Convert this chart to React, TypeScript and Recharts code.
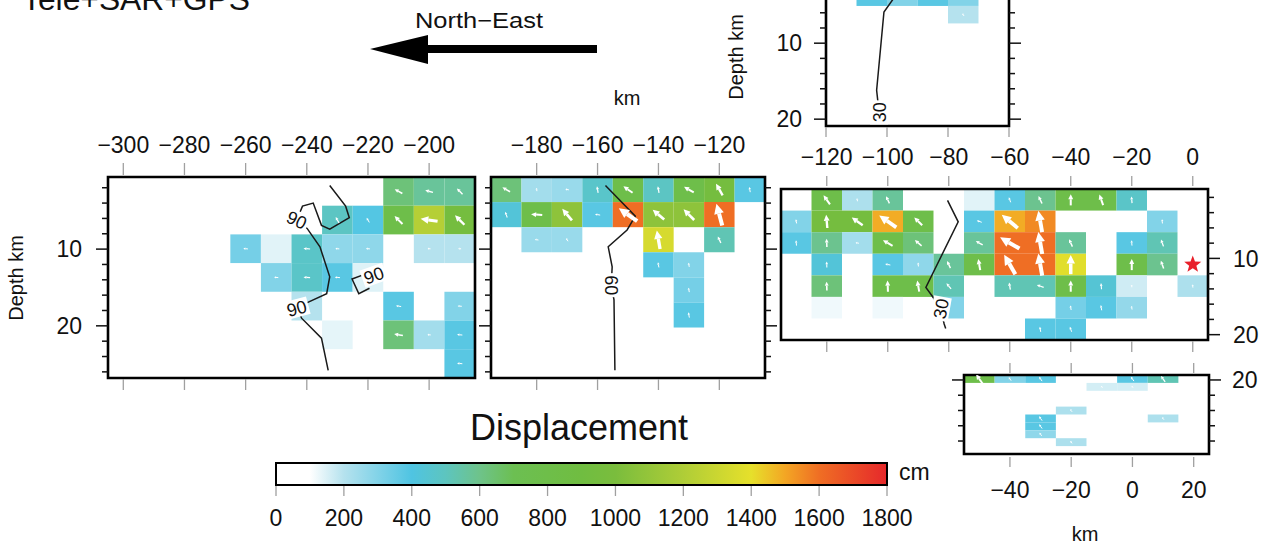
import React from 'react';
import { ScatterChart, Scatter, XAxis, YAxis, ReferenceArea } from 'recharts';

const FONT = '"Liberation Sans", Arial, Helvetica, sans-serif';

// colour table of the displacement bar (cm)
const scaleValues = [0, 100, 200, 400, 500, 600, 700, 900, 1000, 1200, 1400, 1500, 1600, 1800];
const scaleColors = ['#ffffff', '#ffffff', '#b5e2ee', '#4fc4e2', '#5dc5bf', '#6ec38a', '#6cbf52', '#70bd41', '#7abd3d', '#afcd37', '#e6e02b', '#f3a624', '#ef6e24', '#e6282b'];
const barTicks = [0, 200, 400, 600, 800, 1000, 1200, 1400, 1600, 1800];

// segment 1 : -305..-185 km, 10 km columns, 7 rows
const seg1Slip = [
  [0, 0, 0, 0, 0, 0, 0, 0, 0, 630, 570, 570],
  [0, 0, 0, 0, 0, 0, 0, 490, 390, 800, 1220, 950],
  [0, 0, 0, 0, 325, 140, 475, 275, 275, 0, 200, 200],
  [0, 0, 0, 0, 0, 300, 475, 380, 145, 0, 0, 0],
  [0, 0, 0, 0, 0, 0, 200, 0, 0, 380, 0, 300],
  [0, 0, 0, 0, 0, 0, 0, 135, 0, 630, 235, 380],
  [0, 0, 0, 0, 0, 0, 0, 0, 0, 0, 0, 380],
];
const seg1Rake = [
  [0, 0, 0, 0, 0, 0, 0, 0, 0, 150, 165, 135],
  [0, 0, 0, 0, 0, 0, 0, 120, 120, 135, 172, 135],
  [0, 0, 0, 0, 175, 175, 175, 175, 175, 0, 175, 175],
  [0, 0, 0, 0, 0, 175, 175, 175, 175, 0, 0, 0],
  [0, 0, 0, 0, 0, 0, 175, 0, 0, 170, 0, 175],
  [0, 0, 0, 0, 0, 0, 0, 175, 0, 170, 175, 175],
  [0, 0, 0, 0, 0, 0, 0, 0, 0, 0, 0, 175],
];
const seg1Contour = [
  { x: -232.5, y: 1.7 }, { x: -227.3, y: 4.4 }, { x: -226.1, y: 5.9 }, { x: -232.5, y: 7.4 },
  { x: -235.2, y: 6.9 }, { x: -237.9, y: 4.0 }, { x: -241.4, y: 4.4 }, { x: -243.3, y: 6.2 },
  { x: -239.9, y: 7.3 }, { x: -235.7, y: 9.7 }, { x: -232.5, y: 13.6 }, { x: -233.5, y: 15.8 },
  { x: -239.5, y: 16.9 }, { x: -243.3, y: 17.7 }, { x: -241.7, y: 19.0 }, { x: -235.2, y: 21.6 },
  { x: -233.0, y: 25.8 },
];
const seg1Contour2 = [
  { x: -218.1, y: 13.4 }, { x: -220.5, y: 13.2 }, { x: -225.2, y: 13.9 }, { x: -223.0, y: 15.8 }, { x: -219.5, y: 15.1 },
];
const seg1Labels = [
  { x: -243.3, y: 6.2, text: '90', angle: 25 },
  { x: -243.3, y: 17.7, text: '90', angle: -15 },
  { x: -218.1, y: 13.4, text: '90', angle: -20 },
];

// segment 2 : -195..-105 km, 8 rows
const seg2Slip = [
  [630, 235, 255, 470, 800, 490, 800, 950, 380],
  [430, 800, 1075, 380, 1600, 1075, 1075, 1600, 0],
  [0, 255, 255, 0, 0, 1340, 0, 520, 0],
  [0, 0, 0, 0, 0, 380, 300, 0, 0],
  [0, 0, 0, 0, 0, 0, 325, 0, 0],
  [0, 0, 0, 0, 0, 0, 380, 0, 0],
];
const seg2Rake = [
  [150, 100, 170, 100, 145, 100, 150, 120, 100],
  [110, 175, 130, 170, 145, 140, 135, 105, 0],
  [0, 170, 120, 0, 0, 100, 0, 115, 0],
  [0, 0, 0, 0, 0, 100, 100, 0, 0],
  [0, 0, 0, 0, 0, 0, 100, 0, 0],
  [0, 0, 0, 0, 0, 0, 100, 0, 0],
];
const seg2Contour = [
  { x: -157.4, y: 1.7 }, { x: -147.6, y: 5.7 }, { x: -150.3, y: 7.5 }, { x: -156.5, y: 9.7 },
  { x: -155.2, y: 12.3 }, { x: -155.5, y: 14.7 }, { x: -154.6, y: 16.6 }, { x: -154.3, y: 25.8 },
];
const seg2Labels = [{ x: -155.5, y: 14.7, text: '60', angle: 90 }];

// segment 3 : -135..5 km, 7 rows
const seg3Slip = [
  [0, 800, 215, 570, 0, 0, 140, 380, 590, 800, 800, 475, 0, 0],
  [300, 950, 950, 1490, 800, 0, 380, 1490, 1550, 0, 0, 0, 300, 0],
  [380, 590, 235, 800, 630, 0, 570, 1600, 1600, 570, 0, 380, 520, 0],
  [0, 430, 0, 380, 275, 570, 800, 1600, 1600, 1380, 0, 800, 590, 0],
  [0, 630, 0, 800, 800, 520, 0, 520, 520, 800, 440, 165, 0, 215],
  [0, 120, 0, 120, 0, 300, 0, 0, 0, 325, 380, 265, 0, 0],
  [0, 0, 0, 0, 0, 0, 0, 0, 380, 380, 0, 0, 0, 0],
];
const seg3Rake = [
  [0, 125, 100, 115, 0, 0, 100, 110, 115, 90, 110, 95, 0, 0],
  [100, 95, 145, 145, 135, 0, 160, 140, 100, 0, 0, 0, 95, 0],
  [95, 92, 170, 150, 140, 0, 150, 150, 100, 115, 0, 95, 110, 0],
  [0, 92, 0, 170, 95, 115, 100, 120, 100, 90, 0, 90, 110, 0],
  [0, 92, 0, 92, 100, 130, 0, 100, 160, 90, 95, 95, 0, 95],
  [0, 90, 0, 90, 0, 100, 0, 0, 0, 100, 100, 100, 0, 0],
  [0, 0, 0, 0, 0, 0, 0, 0, 100, 110, 0, 0, 0, 0],
];
const seg3Contour = [
  { x: -80.4, y: 2.4 }, { x: -76.9, y: 5.2 }, { x: -87.5, y: 13.8 }, { x: -85.5, y: 14.9 },
  { x: -82.6, y: 16.6 }, { x: -81.5, y: 18.6 }, { x: -81.0, y: 19.2 },
];
const seg3Labels = [{ x: -82.6, y: 16.6, text: '30', angle: -80 }];
const hypocenter = [{ x: 0, y: 10.8 }];

// segment 4 : -55..25 km, deep rows
const seg4Slip = [
  [800, 300, 380, 0, 0, 380, 520, 0],
  [0, 0, 0, 0, 160, 160, 0, 0],
  [0, 0, 0, 0, 0, 0, 0, 0],
  [0, 0, 0, 0, 0, 0, 0, 0],
  [0, 0, 0, 215, 0, 0, 0, 0],
  [0, 0, 380, 0, 0, 0, 215, 0],
  [0, 0, 380, 0, 0, 0, 0, 0],
  [0, 0, 275, 0, 0, 0, 0, 0],
  [0, 0, 0, 215, 0, 0, 0, 0],
];
const seg4Rake = [
  [125, 125, 125, 0, 0, 125, 125, 0],
  [0, 0, 0, 0, 125, 125, 0, 0],
  [0, 0, 0, 0, 0, 0, 0, 0],
  [0, 0, 0, 0, 0, 0, 0, 0],
  [0, 0, 0, 125, 0, 0, 0, 0],
  [0, 0, 125, 0, 0, 0, 125, 0],
  [0, 0, 125, 0, 0, 0, 0, 0],
  [0, 0, 125, 0, 0, 0, 0, 0],
  [0, 0, 0, 125, 0, 0, 0, 0],
];

// top segment : -120..-60 km (visible rows only)
const seg5Slip = [
  [0, 380, 300, 380, 300, 0],
  [0, 0, 0, 0, 200, 0],
];
const seg5Rake = [
  [0, 120, 120, 120, 120, 0],
  [0, 0, 0, 0, 120, 0],
];
const seg5Contour = [
  { x: -95.7, y: 2.9 }, { x: -101.0, y: 5.9 }, { x: -103.4, y: 16.2 }, { x: -102.6, y: 19.1 },
];
const seg5Labels = [{ x: -102.6, y: 19.1, text: '30', angle: -90 }];

const hexToRgb = (h: string) => [1, 3, 5].map((i) => parseInt(h.slice(i, i + 2), 16));

function slipColor(v: number) {
  for (let i = 1; i < scaleValues.length; i++) {
    if (v <= scaleValues[i]) {
      const t = (v - scaleValues[i - 1]) / (scaleValues[i] - scaleValues[i - 1]);
      const a = hexToRgb(scaleColors[i - 1]);
      const b = hexToRgb(scaleColors[i]);
      const c = a.map((x, k) => Math.round(x + (b[k] - x) * t));
      return `rgb(${c.join(',')})`;
    }
  }
  return scaleColors[scaleColors.length - 1];
}

function buildCells(slip: number[][], rake: number[][], x0: number, dx: number, y0: number, dy: number) {
  const out: any[] = [];
  slip.forEach((row, r) =>
    row.forEach((s, c) => {
      if (s > 0) {
        out.push({
          x1: x0 + c * dx, x2: x0 + (c + 1) * dx,
          y1: y0 + r * dy, y2: y0 + (r + 1) * dy,
          x: x0 + (c + 0.5) * dx, y: y0 + (r + 0.5) * dy,
          slip: s, rake: rake[r][c],
        });
      }
    })
  );
  return out;
}

const fmt = (v: number) => (v < 0 ? '\u2212' + Math.abs(v) : String(v));

const makeXTick = (label: boolean, labelDy: number, marks: [number, number][]) => (p: any) => (
  <g>
    {marks.map(([a, b], i) => (
      <line key={i} x1={p.x} x2={p.x} y1={p.y + a} y2={p.y + b} stroke="#a0a0a0" strokeWidth={1.3} />
    ))}
    {label && (
      <text x={p.x} y={p.y + labelDy} textAnchor="middle" fontSize={23} fontFamily={FONT} fill="#111">
        {fmt(p.payload.value)}
      </text>
    )}
  </g>
);

const makeYTick = (dir: number, other: number | null, label: boolean, gap: number) => (p: any) => {
  const v = p.payload.value;
  const major = v % 10 === 0;
  const len = major ? 12 : 6;
  return (
    <g>
      <line x1={p.x} x2={p.x + dir * len} y1={p.y} y2={p.y} stroke="#111" strokeWidth={1.5} />
      {other !== null && (
        <line x1={p.x - dir * other} x2={p.x - dir * (other + len)} y1={p.y} y2={p.y} stroke="#111" strokeWidth={1.5} />
      )}
      {label && major && (
        <text x={p.x + dir * gap} y={p.y} dy="0.36em" textAnchor={dir < 0 ? 'end' : 'start'} fontSize={23} fontFamily={FONT} fill="#111">
          {v}
        </text>
      )}
    </g>
  );
};

const ArrowShape = (p: any) => {
  const { cx, cy, payload } = p;
  const len = payload.slip * 0.014;
  if (len < 2) return <g />;
  const a = (payload.rake * Math.PI) / 180;
  const ux = Math.cos(a);
  const uy = -Math.sin(a);
  const head = len * 0.45;
  const hw = Math.max(1.2, len * 0.22);
  const sw = Math.max(1, len * 0.18);
  const tx = cx - (ux * len) / 2;
  const ty = cy - (uy * len) / 2;
  const hx = cx + (ux * len) / 2;
  const hy = cy + (uy * len) / 2;
  const bx = hx - ux * head;
  const by = hy - uy * head;
  return (
    <g>
      <line x1={tx} y1={ty} x2={bx} y2={by} stroke="#fff" strokeWidth={sw} />
      <polygon points={`${hx},${hy} ${bx - uy * hw},${by + ux * hw} ${bx + uy * hw},${by - ux * hw}`} fill="#fff" />
    </g>
  );
};

const ContourLabel = (p: any) => (
  <g transform={`translate(${p.cx},${p.cy}) rotate(${p.payload.angle})`}>
    <rect x={-12} y={-9} width={24} height={18} fill="#fff" />
    <text x={0} y={0} dy="0.36em" textAnchor="middle" fontSize={18} fontFamily={FONT} fill="#111">
      {p.payload.text}
    </text>
  </g>
);

const StarShape = (p: any) => {
  const pts: string[] = [];
  for (let i = 0; i < 10; i++) {
    const r = i % 2 === 0 ? 9 : 3.8;
    const a = -Math.PI / 2 + (i * Math.PI) / 5;
    pts.push(`${p.cx + r * Math.cos(a)},${p.cy + r * Math.sin(a)}`);
  }
  return <polygon points={pts.join(' ')} fill="#e8202a" />;
};

const noShape = () => <g />;

interface PanelProps {
  box: { left: number; top: number; width: number; height: number };
  margin: { top: number; right: number; bottom: number; left: number };
  xDomain: [number, number];
  yDomain: [number, number];
  xTicks: number[];
  yTicks: number[];
  xOrient: 'top' | 'bottom';
  xHeight: number;
  xTick: any;
  yOrient: 'left' | 'right';
  yWidth: number;
  yTick: any;
  cells: any[];
  contours: { x: number; y: number }[][];
  labels: any[];
  star?: { x: number; y: number }[];
}

function SlipPanel(props: PanelProps) {
  const { box, xDomain, yDomain } = props;
  return (
    <div style={{ position: 'absolute', left: box.left, top: box.top }}>
      <ScatterChart width={box.width} height={box.height} margin={props.margin}>
        <XAxis
          type="number" dataKey="x" domain={xDomain} allowDataOverflow ticks={props.xTicks} interval={0}
          orientation={props.xOrient} height={props.xHeight} tickSize={0} tickMargin={0}
          axisLine={false} tickLine={false} tick={props.xTick}
        />
        <YAxis
          type="number" dataKey="y" domain={yDomain} allowDataOverflow reversed ticks={props.yTicks} interval={0}
          orientation={props.yOrient} width={props.yWidth} tickSize={0} tickMargin={0}
          axisLine={false} tickLine={false} tick={props.yTick}
        />
        {props.cells.map((c, i) => (
          <ReferenceArea key={i} x1={c.x1} x2={c.x2} y1={c.y1} y2={c.y2} fill={slipColor(c.slip)} fillOpacity={1} stroke="none" ifOverflow="hidden" />
        ))}
        <ReferenceArea x1={xDomain[0]} x2={xDomain[1]} y1={yDomain[0]} y2={yDomain[1]} fill="none" stroke="#000" strokeWidth={2.6} ifOverflow="visible" />
        {props.contours.map((line, i) => (
          <Scatter key={'c' + i} data={line} line={{ stroke: '#1a1a1a', strokeWidth: 1.5 }} shape={noShape} isAnimationActive={false} />
        ))}
        <Scatter data={props.cells} shape={ArrowShape} isAnimationActive={false} />
        <Scatter data={props.labels} shape={ContourLabel} isAnimationActive={false} />
        {props.star && <Scatter data={props.star} shape={StarShape} isAnimationActive={false} />}
      </ScatterChart>
    </div>
  );
}

const depthTicks = (from: number, to: number) => {
  const t: number[] = [];
  for (let v = from; v <= to; v += 2) t.push(v);
  return t;
};

export default function App() {
  const cells1 = buildCells(seg1Slip, seg1Rake, -305, 10, 0.6, 3.74);
  const cells2 = buildCells(seg2Slip, seg2Rake, -195, 10, 0.6, 3.27);
  const cells3 = buildCells(seg3Slip, seg3Rake, -135, 10, 0.9, 2.83);
  const cells4 = buildCells(seg4Slip, seg4Rake, -55, 10, 19.35, 1.035);
  const cells5 = buildCells(seg5Slip, seg5Rake, -120, 10, 2.8, 2.3);
  const barPoints = barTicks.map((v) => ({ x: v, y: 0.5 }));

  const barTick = (p: any) => (
    <g>
      <line x1={p.x} x2={p.x} y1={p.y + 1} y2={p.y + 11} stroke="#a0a0a0" strokeWidth={1.3} />
      <text x={p.x} y={p.y + 41} textAnchor="middle" fontSize={23} fontFamily={FONT} fill="#111">
        {p.payload.value}
      </text>
    </g>
  );

  return (
    <div style={{ position: 'absolute', left: 0, top: 0, width: 1267, height: 546, overflow: 'hidden', background: '#fff' }}>
      <svg width={1267} height={546} style={{ position: 'absolute', left: 0, top: 0 }}>
        <text x={22} y={10} fontSize={32} fontFamily={FONT} fill="#111" textLength={228} lengthAdjust="spacingAndGlyphs">
          Tele+SAR+GPS
        </text>
        <text x={415} y={28} fontSize={22} fontFamily={FONT} fill="#111" textLength={128} lengthAdjust="spacingAndGlyphs">
          North{'\u2212'}East
        </text>
        <polygon points="370,49 428,35 428,64" fill="#000" />
        <rect x={427} y={45} width={170} height={8} fill="#000" />
        <text x={627} y={105} textAnchor="middle" fontSize={20} fontFamily={FONT} fill="#111">km</text>
        <text transform="translate(23,278) rotate(-90)" textAnchor="middle" fontSize={20} fontFamily={FONT} fill="#111">Depth km</text>
        <text transform="translate(743,57) rotate(-90)" textAnchor="middle" fontSize={20} fontFamily={FONT} fill="#111">Depth km</text>
        <text x={579} y={440} textAnchor="middle" fontSize={36} fontFamily={FONT} fill="#111">Displacement</text>
        <text x={899} y={480} fontSize={23} fontFamily={FONT} fill="#111">cm</text>
        <text x={1085} y={541} textAnchor="middle" fontSize={20} fontFamily={FONT} fill="#111">km</text>
      </svg>

      <SlipPanel
        box={{ left: 0, top: 110, width: 495, height: 290 }}
        margin={{ top: 0, right: 20, bottom: 22, left: 0 }}
        xDomain={[-305, -185]} yDomain={[0.6, 26.8]}
        xTicks={[-300, -280, -260, -240, -220, -200]} yTicks={depthTicks(2, 26)}
        xOrient="top" xHeight={67} xTick={makeXTick(true, -24, [[-14, -2], [202, 213]])}
        yOrient="left" yWidth={108} yTick={makeYTick(-1, null, true, 26)}
        cells={cells1} contours={[seg1Contour, seg1Contour2]} labels={seg1Labels}
      />
      <SlipPanel
        box={{ left: 470, top: 110, width: 320, height: 290 }}
        margin={{ top: 0, right: 25, bottom: 22, left: 0 }}
        xDomain={[-195, -105]} yDomain={[0.6, 26.8]}
        xTicks={[-180, -160, -140, -120]} yTicks={depthTicks(2, 26)}
        xOrient="top" xHeight={67} xTick={makeXTick(true, -24, [[-14, -2], [202, 213]])}
        yOrient="left" yWidth={21} yTick={makeYTick(-1, 274, false, 0)}
        cells={cells2} contours={[seg2Contour]} labels={seg2Labels}
      />
      <SlipPanel
        box={{ left: 770, top: 120, width: 497, height: 240 }}
        margin={{ top: 0, right: 0, bottom: 20, left: 11 }}
        xDomain={[-135, 5]} yDomain={[0.9, 20.7]}
        xTicks={[-120, -100, -80, -60, -40, -20, 0]} yTicks={depthTicks(2, 20)}
        xOrient="top" xHeight={69} xTick={makeXTick(true, -24, [[-13, -3], [152, 163]])}
        yOrient="right" yWidth={59} yTick={makeYTick(1, null, true, 25)}
        cells={cells3} contours={[seg3Contour]} labels={seg3Labels} star={hypocenter}
      />
      <SlipPanel
        box={{ left: 940, top: 355, width: 327, height: 191 }}
        margin={{ top: 20, right: 0, bottom: 32, left: 24 }}
        xDomain={[-55, 25]} yDomain={[19.35, 29.7]}
        xTicks={[-40, -20, 0, 20]} yTicks={depthTicks(20, 28)}
        xOrient="bottom" xHeight={60} xTick={makeXTick(true, 44, [[3, 13], [-91, -81]])}
        yOrient="right" yWidth={58} yTick={makeYTick(1, 245, true, 23)}
        cells={cells4} contours={[]} labels={[]}
      />
      <SlipPanel
        box={{ left: 700, top: -40, width: 330, height: 200 }}
        margin={{ top: 11, right: 21, bottom: 4, left: 0 }}
        xDomain={[-120, -60]} yDomain={[0.5, 20.9]}
        xTicks={[-120, -100, -80, -60]} yTicks={depthTicks(2, 20)}
        xOrient="bottom" xHeight={30} xTick={makeXTick(false, 0, [[1, 11]])}
        yOrient="left" yWidth={126} yTick={makeYTick(-1, 183, true, 24)}
        cells={cells5} contours={[seg5Contour]} labels={seg5Labels}
      />

      <div style={{ position: 'absolute', left: 250, top: 455 }}>
        <ScatterChart width={700} height={91} margin={{ top: 8, right: 63, bottom: 11, left: 26 }}>
          <defs>
            <linearGradient id="cbar" x1="0" x2="1" y1="0" y2="0">
              {scaleValues.map((v, i) => (
                <stop key={i} offset={v / 1800} stopColor={scaleColors[i]} />
              ))}
            </linearGradient>
          </defs>
          <XAxis
            type="number" dataKey="x" domain={[0, 1800]} allowDataOverflow ticks={barTicks} interval={0} height={50}
            tickSize={0} tickMargin={0} axisLine={false} tickLine={false} tick={barTick}
          />
          <YAxis type="number" dataKey="y" domain={[0, 1]} allowDataOverflow hide />
          <ReferenceArea x1={0} x2={1800} y1={0} y2={1} fill="url(#cbar)" fillOpacity={1} stroke="#000" strokeWidth={2} ifOverflow="visible" />
          <Scatter data={barPoints} shape={noShape} isAnimationActive={false} />
        </ScatterChart>
      </div>
    </div>
  );
}
